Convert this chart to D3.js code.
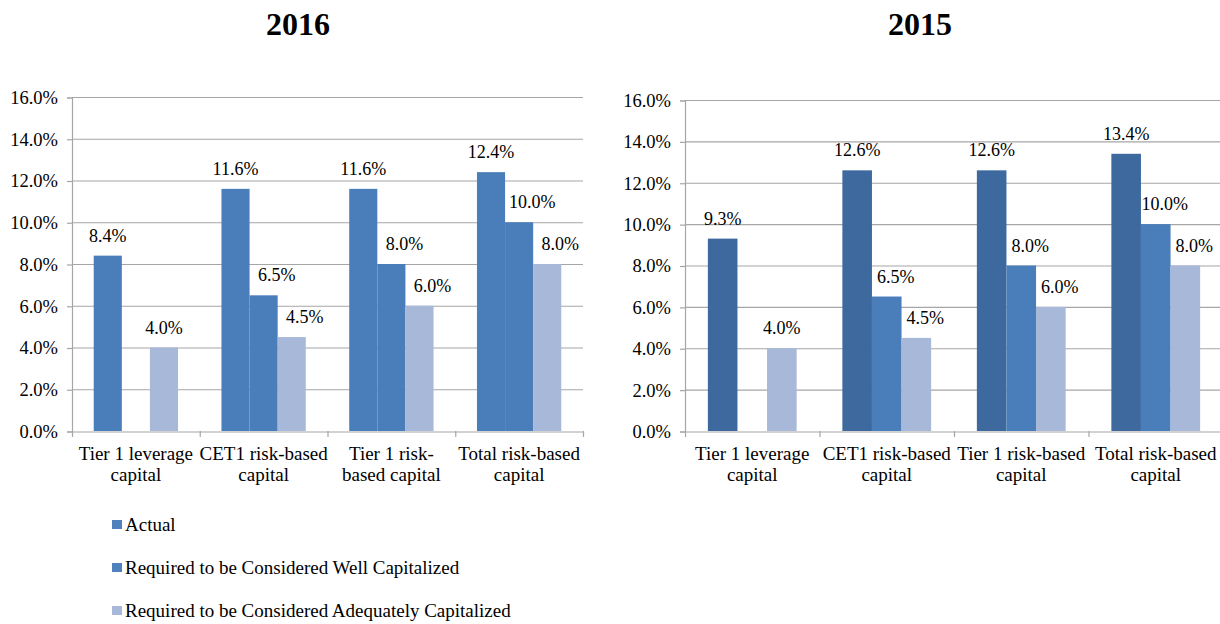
<!DOCTYPE html>
<html>
<head>
<meta charset="utf-8">
<script src="https://cdn.jsdelivr.net/npm/d3@7"></script>
<style>
  html, body { margin: 0; padding: 0; background: #fff; }
  svg { display: block; }
</style>
</head>
<body>
<svg id="chart" width="1220" height="624"></svg>
<script>
// ---- Data ----
const categories = [
  ["Tier 1 leverage", "capital"],
  ["CET1 risk-based", "capital"],
  ["Tier 1 risk-", "based capital"],
  ["Total risk-based", "capital"]
];
const categories2015 = [
  ["Tier 1 leverage", "capital"],
  ["CET1 risk-based", "capital"],
  ["Tier 1 risk-based", "capital"],
  ["Total risk-based", "capital"]
];
const seriesNames = [
  "Actual",
  "Required to be Considered Well Capitalized",
  "Required to be Considered Adequately Capitalized"
];
const actual2016   = [8.4, 11.6, 11.6, 12.4];
const well2016     = [null, 6.5, 8.0, 10.0];
const adequate2016 = [4.0, 4.5, 6.0, 8.0];
const actual2015   = [9.3, 12.6, 12.6, 13.4];
const well2015     = [null, 6.5, 8.0, 10.0];
const adequate2015 = [4.0, 4.5, 6.0, 8.0];
const yTicks = [0, 2, 4, 6, 8, 10, 12, 14, 16];

// ---- Styles ----
const FONT = "'Liberation Serif', 'Times New Roman', Times, 'DejaVu Serif', serif";
const colors2016 = ["#4A7EBB", "#4A7EBB", "#A7B8D9"];
const colors2015 = ["#3D699F", "#4A7EBB", "#A7B8D9"];
const legendColors = ["#4F81BD", "#4F81BD", "#A9B8D8"];

const svg = d3.select("#chart");

function txt(sel) {
  return sel.attr("font-family", FONT).style("font-family", FONT).attr("fill", "#000");
}

function drawChart(cfg) {
  const g = svg.append("g");
  const y = d3.scaleLinear().domain([0, 16]).range([cfg.bottom, cfg.top]);
  const x = d3.scaleBand().domain(d3.range(cfg.cats.length)).range([cfg.left, cfg.right]).padding(0);
  const bw = x.bandwidth();
  const xs = d3.scaleBand().domain([0, 1, 2]).range([bw * 0.17, bw * 0.83]).padding(0);

  // title
  txt(g.append("text"))
    .attr("x", cfg.titleX).attr("y", 35)
    .attr("text-anchor", "middle")
    .style("font-size", "32px").style("font-weight", "bold")
    .text(cfg.title);

  // gridlines
  g.selectAll("line.grid").data(yTicks.filter(t => t > 0)).enter().append("line")
    .attr("x1", cfg.left).attr("x2", cfg.right)
    .attr("y1", d => y(d) + 0.5).attr("y2", d => y(d) + 0.5)
    .attr("stroke", "#A6A6A6").attr("stroke-width", 1.2);

  // y axis
  const yAxis = d3.axisLeft(y).tickValues(yTicks).tickSize(5).tickPadding(9)
    .tickFormat(d => d.toFixed(1) + "%");
  const ya = g.append("g").attr("transform", `translate(${cfg.left},0.5)`).call(yAxis)
    .attr("font-family", FONT);
  ya.select(".domain").attr("stroke", "#A6A6A6").attr("stroke-width", 1.2);
  ya.selectAll(".tick line").attr("stroke", "#A6A6A6").attr("stroke-width", 1.2);
  txt(ya.selectAll(".tick text")).style("font-size", "18.5px");

  // bars
  cfg.series.forEach((vals, si) => {
    g.selectAll(null).data(vals.map((v, i) => ({ v, i })).filter(d => d.v != null)).enter()
      .append("rect")
      .attr("x", d => x(d.i) + xs(si))
      .attr("width", xs.bandwidth())
      .attr("y", d => y(d.v))
      .attr("height", d => y(0) - y(d.v))
      .attr("fill", cfg.colors[si]);
  });

  // x axis
  const xAxis = d3.axisBottom(x).tickSize(0).tickFormat("");
  const xa = g.append("g").attr("transform", `translate(0,${cfg.bottom + 0.5})`).call(xAxis);
  xa.select(".domain").attr("stroke", "#A6A6A6").attr("stroke-width", 1.2);
  g.selectAll(null).data(d3.range(cfg.cats.length + 1)).enter().append("line")
    .attr("x1", i => (i < cfg.cats.length ? x(i) : cfg.right) + 0.5)
    .attr("x2", i => (i < cfg.cats.length ? x(i) : cfg.right) + 0.5)
    .attr("y1", cfg.bottom).attr("y2", cfg.bottom + 6)
    .attr("stroke", "#A6A6A6").attr("stroke-width", 1.2);

  // category labels
  cfg.cats.forEach((lines, i) => {
    const t = txt(g.append("text")).attr("text-anchor", "middle").style("font-size", "19px");
    lines.forEach((ln, li) => {
      t.append("tspan").attr("x", x(i) + bw / 2).attr("y", 460 + li * 21).text(ln);
    });
  });

  // data labels
  cfg.series.forEach((vals, si) => {
    vals.forEach((v, i) => {
      if (v == null) return;
      const shifted = si > 0 && cfg.series[si - 1][i] != null;
      txt(g.append("text"))
        .attr("x", x(i) + xs(si) + xs.bandwidth() / 2 + (shifted ? cfg.labelDx : 0))
        .attr("y", y(v) - 14)
        .attr("text-anchor", "middle")
        .style("font-size", "18px")
        .text(v.toFixed(1) + "%");
    });
  });
}

drawChart({
  title: "2016", titleX: 298,
  left: 72, right: 583, top: 97, bottom: 431,
  cats: categories,
  series: [actual2016, well2016, adequate2016],
  colors: colors2016, labelDx: 13
});
drawChart({
  title: "2015", titleX: 920,
  left: 685, right: 1223, top: 100, bottom: 431,
  cats: categories2015,
  series: [actual2015, well2015, adequate2015],
  colors: colors2015, labelDx: 9
});

// legend
const leg = svg.append("g");
seriesNames.forEach((name, i) => {
  const by = 531 + i * 43;
  leg.append("rect").attr("x", 112).attr("y", by - 11).attr("width", 10).attr("height", 9)
    .attr("fill", legendColors[i]);
  txt(leg.append("text")).attr("x", 125).attr("y", by).style("font-size", "19px").text(name);
});
</script>
</body>
</html>
